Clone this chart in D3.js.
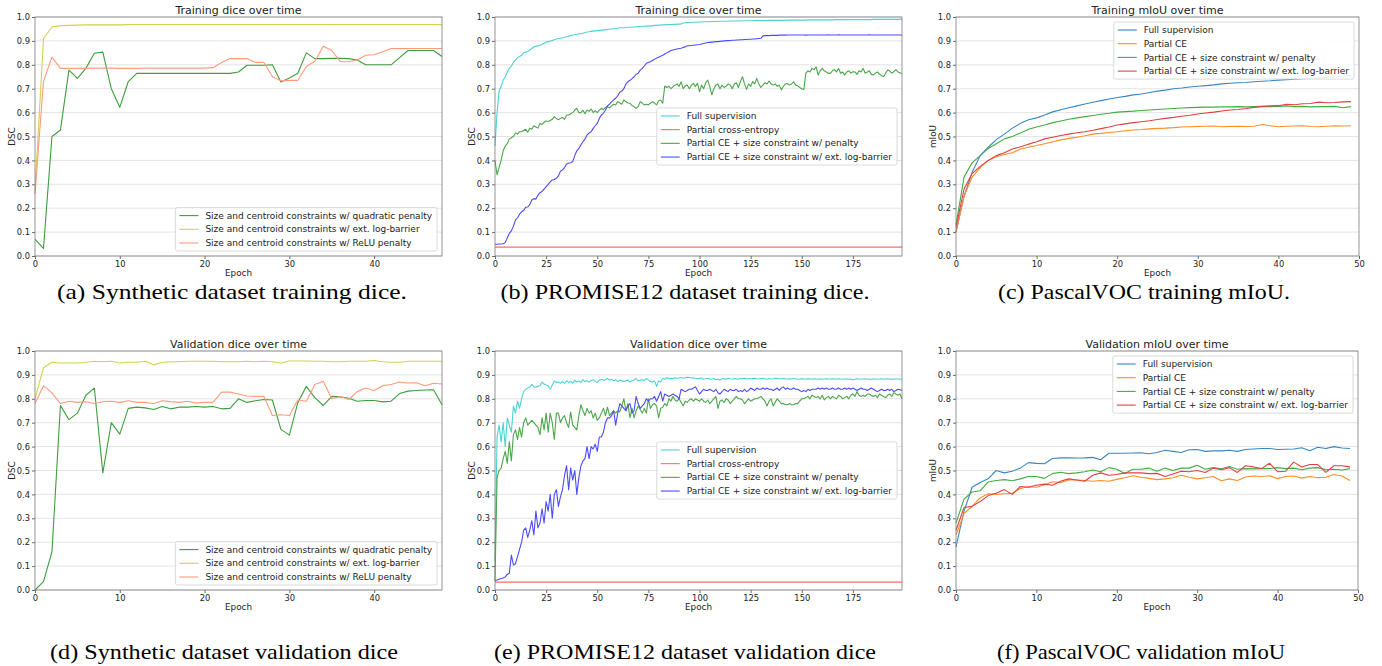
<!DOCTYPE html>
<html>
<head>
<meta charset="utf-8">
<script src="https://cdn.jsdelivr.net/npm/d3@7"></script>
<style>
  body { margin: 0; background: #fff; }
  svg { display: block; }
</style>
</head>
<body>
<div id="figure"></div>
<script>
// 1: DATA (one value per epoch)

const yTicks = [0.0, 0.1, 0.2, 0.3, 0.4, 0.5, 0.6, 0.7, 0.8, 0.9, 1.0];
const synthTicks = [0, 10, 20, 30, 40];
const promiseTicks = [0, 25, 50, 75, 100, 125, 150, 175];
const vocTicks = [0, 10, 20, 30, 40, 50];

const synthLabels = [
  "Size and centroid constraints w/ quadratic penalty",
  "Size and centroid constraints w/ ext. log-barrier",
  "Size and centroid constraints w/ ReLU penalty"
];
const promiseLabels = [
  "Full supervision",
  "Partial cross-entropy",
  "Partial CE + size constraint w/ penalty",
  "Partial CE + size constraint w/ ext. log-barrier"
];
const vocLabels = [
  "Full supervision",
  "Partial CE",
  "Partial CE + size constraint w/ penalty",
  "Partial CE + size constraint w/ ext. log-barrier"
];

// (a) synthetic training dice, epochs 0..48
const synthTrainQuad = [0.07,0.032,0.50,0.527,0.778,0.743,0.785,0.848,0.853,0.70,
  0.622,0.73,0.764,0.764,0.764,0.764,0.764,0.764,0.764,0.764,
  0.764,0.764,0.764,0.764,0.770,0.798,0.798,0.798,0.80,0.728,
  0.745,0.765,0.85,0.826,0.826,0.827,0.827,0.826,0.82,0.80,
  0.80,0.80,0.80,0.83,0.86,0.86,0.86,0.86,0.835];
const synthTrainLog = [0.27,0.91,0.958,0.964,0.965,0.966,0.967,0.967,0.967,0.967,
  0.967,0.968,0.968,0.968,0.968,0.968,0.968,0.968,0.968,0.968,
  0.968,0.968,0.968,0.968,0.968,0.968,0.968,0.968,0.968,0.968,
  0.968,0.968,0.968,0.968,0.968,0.968,0.968,0.968,0.968,0.968,
  0.968,0.968,0.968,0.968,0.968,0.968,0.968,0.968,0.968];
const synthTrainRelu = [0.26,0.73,0.832,0.785,0.785,0.785,0.785,0.786,0.786,0.786,
  0.785,0.785,0.785,0.786,0.786,0.786,0.786,0.786,0.786,0.786,
  0.786,0.788,0.81,0.826,0.826,0.826,0.81,0.81,0.75,0.733,
  0.735,0.735,0.793,0.815,0.878,0.86,0.813,0.813,0.82,0.84,
  0.842,0.855,0.868,0.868,0.868,0.868,0.868,0.868,0.868];

// (d) synthetic validation dice, epochs 0..48
const synthValQuad = [0.0,0.035,0.16,0.772,0.713,0.74,0.815,0.845,0.49,0.70,
  0.652,0.76,0.765,0.762,0.755,0.768,0.758,0.765,0.765,0.768,
  0.765,0.768,0.758,0.76,0.80,0.785,0.792,0.797,0.795,0.672,
  0.648,0.785,0.852,0.805,0.772,0.81,0.808,0.802,0.79,0.793,
  0.793,0.787,0.79,0.822,0.832,0.835,0.837,0.838,0.775];
const synthValLog = [0.80,0.93,0.953,0.95,0.95,0.95,0.953,0.957,0.955,0.957,
  0.95,0.953,0.953,0.957,0.942,0.953,0.955,0.955,0.957,0.957,
  0.957,0.957,0.955,0.955,0.955,0.957,0.955,0.957,0.955,0.95,
  0.958,0.958,0.958,0.957,0.957,0.955,0.955,0.957,0.957,0.957,
  0.96,0.955,0.953,0.953,0.957,0.957,0.957,0.957,0.957];
const synthValRelu = [0.78,0.855,0.825,0.78,0.79,0.785,0.788,0.78,0.788,0.79,
  0.785,0.792,0.785,0.785,0.78,0.792,0.788,0.785,0.79,0.782,
  0.785,0.785,0.828,0.828,0.82,0.812,0.81,0.81,0.73,0.733,
  0.73,0.795,0.79,0.86,0.873,0.80,0.81,0.797,0.83,0.845,
  0.835,0.855,0.86,0.87,0.866,0.867,0.855,0.865,0.862];

// (b) PROMISE12 training dice, epochs 0..199
const promTrainFull = [0.46,0.60,0.69,0.71,0.735,0.75,0.77,0.785,0.795,0.81,0.82,0.83,0.835,0.84,0.85,0.853,0.857,0.862,0.868,0.875,
  0.878,0.879,0.882,0.885,0.89,0.895,0.897,0.899,0.902,0.905,0.908,0.91,0.911,0.913,0.915,0.917,0.92,0.923,0.925,0.926,
  0.928,0.93,0.93,0.932,0.935,0.937,0.938,0.94,0.941,0.942,0.943,0.944,0.945,0.946,0.946,0.948,0.949,0.95,0.951,0.952,
  0.953,0.955,0.955,0.955,0.956,0.957,0.957,0.958,0.958,0.959,0.96,0.96,0.961,0.961,0.962,0.962,0.963,0.963,0.965,0.965,
  0.966,0.966,0.967,0.967,0.968,0.968,0.968,0.969,0.969,0.97,0.97,0.971,0.975,0.976,0.977,0.977,0.978,0.978,0.978,0.979,
  0.979,0.979,0.98,0.98,0.98,0.98,0.981,0.981,0.981,0.981,0.982,0.982,0.982,0.982,0.982,0.983,0.983,0.983,0.983,0.983,
  0.983,0.984,0.984,0.984,0.984,0.984,0.984,0.985,0.985,0.985,0.985,0.985,0.985,0.985,0.986,0.986,0.986,0.986,0.986,0.986,
  0.986,0.986,0.986,0.987,0.987,0.987,0.987,0.987,0.987,0.987,0.987,0.987,0.987,0.988,0.988,0.988,0.988,0.988,0.988,0.988,
  0.988,0.988,0.988,0.988,0.988,0.988,0.989,0.989,0.989,0.989,0.989,0.989,0.989,0.989,0.989,0.989,0.989,0.989,0.989,0.989,
  0.989,0.989,0.989,0.989,0.989,0.99,0.99,0.99,0.99,0.99,0.99,0.99,0.99,0.99,0.99,0.99,0.99,0.99,0.991,0.991];
const promTrainCE = [0.037,0.037,0.037,0.037,0.037,0.037,0.037,0.037,0.037,0.037,0.037,0.037,0.037,0.037,0.037,0.037,0.037,0.037,0.037,0.037,
  0.037,0.037,0.037,0.037,0.037,0.037,0.037,0.037,0.037,0.037,0.037,0.037,0.037,0.037,0.037,0.037,0.037,0.037,0.037,0.037,
  0.037,0.037,0.037,0.037,0.037,0.037,0.037,0.037,0.037,0.037,0.037,0.037,0.037,0.037,0.037,0.037,0.037,0.037,0.037,0.037,
  0.037,0.037,0.037,0.037,0.037,0.037,0.037,0.037,0.037,0.037,0.037,0.037,0.037,0.037,0.037,0.037,0.037,0.037,0.037,0.037,
  0.037,0.037,0.037,0.037,0.037,0.037,0.037,0.037,0.037,0.037,0.037,0.037,0.037,0.037,0.037,0.037,0.037,0.037,0.037,0.037,
  0.037,0.037,0.037,0.037,0.037,0.037,0.037,0.037,0.037,0.037,0.037,0.037,0.037,0.037,0.037,0.037,0.037,0.037,0.037,0.037,
  0.037,0.037,0.037,0.037,0.037,0.037,0.037,0.037,0.037,0.037,0.037,0.037,0.037,0.037,0.037,0.037,0.037,0.037,0.037,0.037,
  0.037,0.037,0.037,0.037,0.037,0.037,0.037,0.037,0.037,0.037,0.037,0.037,0.037,0.037,0.037,0.037,0.037,0.037,0.037,0.037,
  0.037,0.037,0.037,0.037,0.037,0.037,0.037,0.037,0.037,0.037,0.037,0.037,0.037,0.037,0.037,0.037,0.037,0.037,0.037,0.037,
  0.037,0.037,0.037,0.037,0.037,0.037,0.037,0.037,0.037,0.037,0.037,0.037,0.037,0.037,0.037,0.037,0.037,0.037,0.037,0.037];
const promTrainPen = [0.40,0.34,0.37,0.40,0.44,0.46,0.47,0.49,0.495,0.50,0.515,0.51,0.52,0.52,0.525,0.53,0.518,0.535,0.53,0.545,
  0.54,0.535,0.555,0.55,0.56,0.565,0.563,0.567,0.572,0.583,0.575,0.57,0.576,0.58,0.572,0.59,0.59,0.595,0.60,0.611,
  0.618,0.60,0.60,0.61,0.595,0.611,0.605,0.615,0.60,0.608,0.60,0.61,0.618,0.612,0.622,0.625,0.62,0.628,0.635,0.632,
  0.646,0.64,0.635,0.653,0.645,0.64,0.639,0.63,0.625,0.618,0.625,0.646,0.64,0.632,0.635,0.632,0.64,0.646,0.64,0.632,
  0.65,0.653,0.639,0.711,0.705,0.71,0.70,0.708,0.715,0.72,0.71,0.729,0.70,0.712,0.715,0.70,0.715,0.722,0.71,0.722,
  0.687,0.715,0.70,0.725,0.736,0.71,0.674,0.70,0.715,0.72,0.70,0.715,0.705,0.71,0.72,0.715,0.70,0.72,0.725,0.705,
  0.73,0.75,0.72,0.697,0.72,0.71,0.73,0.72,0.743,0.72,0.705,0.715,0.725,0.72,0.732,0.72,0.715,0.72,0.71,0.715,
  0.695,0.71,0.72,0.722,0.715,0.72,0.729,0.715,0.712,0.705,0.70,0.697,0.765,0.775,0.77,0.785,0.78,0.792,0.757,0.775,
  0.785,0.775,0.77,0.765,0.764,0.775,0.78,0.77,0.785,0.765,0.77,0.757,0.77,0.775,0.765,0.771,0.77,0.76,0.775,0.77,
  0.785,0.765,0.77,0.775,0.76,0.757,0.765,0.77,0.76,0.755,0.75,0.765,0.778,0.775,0.765,0.771,0.78,0.77,0.767,0.762];
const promTrainLog = [0.049,0.049,0.05,0.05,0.051,0.056,0.075,0.095,0.105,0.125,0.15,0.16,0.175,0.185,0.19,0.204,0.205,0.215,0.234,0.24,
  0.238,0.255,0.265,0.27,0.28,0.29,0.30,0.31,0.318,0.32,0.325,0.335,0.355,0.36,0.37,0.385,0.388,0.39,0.395,0.42,
  0.44,0.45,0.465,0.478,0.49,0.506,0.515,0.52,0.534,0.545,0.555,0.575,0.59,0.597,0.61,0.628,0.635,0.645,0.653,0.66,
  0.67,0.685,0.69,0.70,0.72,0.73,0.735,0.742,0.75,0.76,0.765,0.778,0.785,0.795,0.806,0.81,0.813,0.818,0.823,0.828,
  0.832,0.836,0.84,0.845,0.85,0.855,0.86,0.862,0.864,0.866,0.868,0.869,0.872,0.875,0.88,0.88,0.881,0.882,0.883,0.884,
  0.885,0.887,0.889,0.891,0.893,0.894,0.895,0.896,0.897,0.897,0.898,0.899,0.9,0.901,0.901,0.902,0.903,0.903,0.904,0.904,
  0.905,0.905,0.906,0.906,0.907,0.907,0.908,0.908,0.909,0.91,0.911,0.921,0.922,0.922,0.922,0.923,0.923,0.923,0.923,0.924,
  0.924,0.924,0.924,0.925,0.925,0.925,0.925,0.925,0.925,0.925,0.925,0.925,0.924,0.925,0.925,0.925,0.925,0.925,0.925,0.925,
  0.925,0.925,0.925,0.926,0.925,0.925,0.925,0.925,0.926,0.925,0.925,0.925,0.925,0.925,0.925,0.925,0.925,0.925,0.925,0.925,
  0.925,0.925,0.925,0.926,0.925,0.925,0.925,0.925,0.925,0.925,0.925,0.925,0.925,0.925,0.925,0.925,0.925,0.925,0.925,0.925];

// (e) PROMISE12 validation dice, epochs 0..199
const promValFull = [0.12,0.64,0.69,0.62,0.70,0.60,0.72,0.69,0.66,0.77,0.74,0.79,0.76,0.80,0.83,0.84,0.845,0.85,0.86,0.85,
  0.848,0.852,0.855,0.87,0.862,0.858,0.855,0.84,0.858,0.875,0.868,0.87,0.865,0.872,0.865,0.875,0.868,0.873,0.865,0.878,
  0.87,0.875,0.868,0.88,0.872,0.876,0.87,0.877,0.88,0.873,0.868,0.878,0.882,0.878,0.88,0.885,0.878,0.882,0.875,0.88,
  0.872,0.878,0.875,0.872,0.876,0.878,0.87,0.875,0.88,0.885,0.875,0.878,0.88,0.876,0.885,0.878,0.872,0.87,0.875,0.852,
  0.875,0.87,0.885,0.882,0.888,0.885,0.886,0.884,0.888,0.886,0.887,0.889,0.886,0.888,0.89,0.889,0.887,0.888,0.886,0.885,
  0.885,0.887,0.883,0.884,0.886,0.882,0.883,0.885,0.88,0.883,0.878,0.884,0.885,0.882,0.886,0.884,0.883,0.885,0.884,0.882,
  0.885,0.884,0.886,0.883,0.885,0.884,0.885,0.886,0.884,0.883,0.885,0.886,0.884,0.882,0.885,0.883,0.884,0.886,0.885,0.884,
  0.883,0.885,0.884,0.882,0.884,0.883,0.885,0.884,0.882,0.883,0.884,0.883,0.882,0.884,0.883,0.882,0.884,0.883,0.882,0.884,
  0.882,0.883,0.884,0.883,0.882,0.884,0.883,0.882,0.884,0.883,0.882,0.883,0.884,0.882,0.883,0.880,0.882,0.884,0.883,0.882,
  0.883,0.884,0.882,0.883,0.882,0.884,0.883,0.882,0.883,0.884,0.882,0.883,0.884,0.882,0.883,0.882,0.884,0.883,0.882,0.883];
const promValCE = [0.033,0.033,0.033,0.033,0.033,0.033,0.033,0.033,0.033,0.033,0.033,0.033,0.033,0.033,0.033,0.033,0.033,0.033,0.033,0.033,
  0.033,0.033,0.033,0.033,0.033,0.033,0.033,0.033,0.033,0.033,0.033,0.033,0.033,0.033,0.033,0.033,0.033,0.033,0.033,0.033,
  0.033,0.033,0.033,0.033,0.033,0.033,0.033,0.033,0.033,0.033,0.033,0.033,0.033,0.033,0.033,0.033,0.033,0.033,0.033,0.033,
  0.033,0.033,0.033,0.033,0.033,0.033,0.033,0.033,0.033,0.033,0.033,0.033,0.033,0.033,0.033,0.033,0.033,0.033,0.033,0.033,
  0.033,0.033,0.033,0.033,0.033,0.033,0.033,0.033,0.033,0.033,0.033,0.033,0.033,0.033,0.033,0.033,0.033,0.033,0.033,0.033,
  0.033,0.033,0.033,0.033,0.033,0.033,0.033,0.033,0.033,0.033,0.033,0.033,0.033,0.033,0.033,0.033,0.033,0.033,0.033,0.033,
  0.033,0.033,0.033,0.033,0.033,0.033,0.033,0.033,0.033,0.033,0.033,0.033,0.033,0.033,0.033,0.033,0.033,0.033,0.033,0.033,
  0.033,0.033,0.033,0.033,0.033,0.033,0.033,0.033,0.033,0.033,0.033,0.033,0.033,0.033,0.033,0.033,0.033,0.033,0.033,0.033,
  0.033,0.033,0.033,0.033,0.033,0.033,0.033,0.033,0.033,0.033,0.033,0.033,0.033,0.033,0.033,0.033,0.033,0.033,0.033,0.033,
  0.033,0.033,0.033,0.033,0.033,0.033,0.033,0.033,0.033,0.033,0.033,0.033,0.033,0.033,0.033,0.033,0.033,0.033,0.033,0.033];
const promValPen = [0.04,0.47,0.50,0.51,0.55,0.58,0.53,0.62,0.54,0.65,0.67,0.63,0.68,0.64,0.70,0.72,0.69,0.70,0.71,0.70,
  0.69,0.68,0.65,0.72,0.67,0.74,0.66,0.74,0.70,0.63,0.74,0.74,0.70,0.72,0.73,0.70,0.68,0.745,0.69,0.68,
  0.67,0.73,0.775,0.75,0.73,0.76,0.74,0.75,0.72,0.74,0.71,0.72,0.74,0.76,0.73,0.765,0.73,0.74,0.75,0.74,
  0.75,0.745,0.77,0.80,0.75,0.78,0.72,0.76,0.72,0.75,0.77,0.755,0.74,0.76,0.74,0.80,0.76,0.775,0.78,0.77,
  0.72,0.76,0.765,0.78,0.77,0.80,0.79,0.81,0.795,0.79,0.80,0.785,0.77,0.79,0.785,0.795,0.80,0.79,0.80,0.795,
  0.79,0.80,0.79,0.785,0.795,0.78,0.79,0.80,0.81,0.76,0.79,0.795,0.785,0.80,0.795,0.78,0.79,0.80,0.81,0.80,
  0.80,0.795,0.78,0.79,0.80,0.79,0.795,0.80,0.80,0.805,0.81,0.80,0.79,0.77,0.79,0.80,0.77,0.785,0.80,0.79,
  0.78,0.78,0.775,0.775,0.78,0.775,0.775,0.78,0.78,0.79,0.80,0.80,0.805,0.81,0.80,0.815,0.81,0.805,0.81,0.80,
  0.815,0.795,0.805,0.81,0.80,0.81,0.805,0.80,0.815,0.81,0.80,0.805,0.81,0.80,0.815,0.82,0.81,0.83,0.815,0.81,
  0.815,0.81,0.82,0.82,0.815,0.81,0.815,0.805,0.82,0.815,0.81,0.805,0.815,0.82,0.81,0.825,0.82,0.815,0.82,0.80];
const promValLog = [0.04,0.042,0.045,0.048,0.05,0.055,0.065,0.07,0.146,0.105,0.11,0.14,0.17,0.20,0.25,0.26,0.22,0.25,0.29,0.23,
  0.33,0.26,0.28,0.34,0.28,0.37,0.33,0.40,0.30,0.40,0.42,0.35,0.39,0.42,0.48,0.52,0.42,0.51,0.46,0.50,
  0.40,0.47,0.52,0.54,0.55,0.60,0.55,0.60,0.59,0.61,0.58,0.64,0.64,0.66,0.70,0.72,0.72,0.73,0.75,0.69,
  0.74,0.78,0.77,0.76,0.75,0.77,0.78,0.74,0.75,0.81,0.78,0.76,0.77,0.78,0.80,0.79,0.80,0.80,0.81,0.79,
  0.81,0.83,0.79,0.82,0.815,0.81,0.815,0.82,0.815,0.81,0.80,0.84,0.835,0.83,0.835,0.84,0.84,0.845,0.85,0.835,
  0.82,0.83,0.84,0.835,0.835,0.84,0.835,0.83,0.84,0.825,0.82,0.83,0.84,0.835,0.83,0.84,0.835,0.835,0.84,0.83,
  0.835,0.83,0.84,0.83,0.835,0.845,0.84,0.835,0.845,0.84,0.84,0.845,0.84,0.845,0.84,0.84,0.835,0.84,0.845,0.835,
  0.845,0.85,0.84,0.845,0.84,0.84,0.845,0.84,0.84,0.835,0.83,0.835,0.83,0.84,0.835,0.84,0.84,0.84,0.845,0.84,
  0.845,0.84,0.845,0.84,0.84,0.845,0.84,0.84,0.845,0.84,0.84,0.845,0.84,0.845,0.84,0.845,0.84,0.835,0.84,0.845,
  0.84,0.84,0.835,0.84,0.845,0.84,0.835,0.83,0.835,0.84,0.835,0.835,0.84,0.835,0.84,0.83,0.835,0.84,0.838,0.835];

// (c) PascalVOC training mIoU, epochs 0..49
const vocTrainFull = [0.10,0.25,0.35,0.42,0.455,0.487,0.51,0.535,0.555,0.57,
  0.578,0.59,0.603,0.612,0.62,0.628,0.636,0.643,0.65,0.657,
  0.663,0.668,0.674,0.678,0.684,0.69,0.694,0.70,0.703,0.707,
  0.71,0.713,0.716,0.72,0.723,0.725,0.726,0.729,0.731,0.733,
  0.736,0.738,0.74,0.742,0.744,0.745,0.748,0.75,0.752,0.755];
const vocTrainCE = [0.10,0.25,0.33,0.37,0.40,0.415,0.425,0.432,0.448,0.455,
  0.462,0.47,0.478,0.486,0.492,0.497,0.503,0.51,0.513,0.517,
  0.52,0.524,0.527,0.529,0.532,0.534,0.535,0.537,0.54,0.541,
  0.542,0.543,0.544,0.541,0.542,0.543,0.542,0.543,0.55,0.545,
  0.541,0.543,0.544,0.545,0.542,0.541,0.543,0.545,0.544,0.545];
const vocTrainPen = [0.13,0.33,0.39,0.42,0.45,0.47,0.49,0.50,0.515,0.53,
  0.54,0.548,0.558,0.565,0.572,0.578,0.583,0.588,0.593,0.597,
  0.602,0.604,0.606,0.609,0.611,0.613,0.615,0.617,0.619,0.621,
  0.622,0.623,0.623,0.624,0.624,0.625,0.624,0.625,0.626,0.625,
  0.626,0.628,0.625,0.626,0.624,0.625,0.625,0.626,0.62,0.625];
const vocTrainLog = [0.12,0.28,0.345,0.375,0.40,0.42,0.432,0.448,0.457,0.468,
  0.478,0.49,0.497,0.504,0.51,0.516,0.52,0.526,0.533,0.54,
  0.548,0.553,0.558,0.562,0.566,0.571,0.576,0.58,0.585,0.589,
  0.594,0.598,0.602,0.607,0.611,0.613,0.617,0.622,0.626,0.628,
  0.629,0.635,0.633,0.637,0.638,0.644,0.641,0.642,0.645,0.646];

// (f) PascalVOC validation mIoU, epochs 0..49
const vocValFull = [0.18,0.33,0.43,0.45,0.465,0.50,0.49,0.497,0.51,0.533,
  0.53,0.528,0.55,0.553,0.553,0.552,0.553,0.555,0.545,0.572,
  0.572,0.572,0.573,0.574,0.57,0.575,0.585,0.58,0.575,0.587,
  0.588,0.58,0.582,0.582,0.585,0.58,0.588,0.59,0.592,0.592,
  0.588,0.589,0.59,0.595,0.583,0.597,0.592,0.60,0.594,0.592];
const vocValCE = [0.23,0.32,0.35,0.385,0.403,0.40,0.403,0.405,0.425,0.432,
  0.43,0.44,0.453,0.45,0.46,0.46,0.458,0.455,0.458,0.455,
  0.463,0.47,0.478,0.472,0.467,0.462,0.465,0.47,0.48,0.472,
  0.465,0.47,0.475,0.457,0.465,0.458,0.473,0.477,0.475,0.478,
  0.466,0.475,0.477,0.468,0.475,0.47,0.472,0.483,0.477,0.458];
const vocValPen = [0.28,0.38,0.41,0.415,0.452,0.458,0.462,0.457,0.465,0.475,
  0.475,0.467,0.487,0.493,0.487,0.49,0.495,0.502,0.495,0.512,
  0.505,0.487,0.505,0.505,0.51,0.497,0.51,0.50,0.51,0.51,
  0.522,0.505,0.512,0.507,0.517,0.505,0.508,0.507,0.508,0.508,
  0.512,0.508,0.51,0.503,0.51,0.512,0.503,0.505,0.502,0.508];
const vocValLog = [0.25,0.345,0.35,0.37,0.395,0.405,0.42,0.40,0.433,0.43,
  0.438,0.443,0.438,0.455,0.465,0.46,0.455,0.48,0.49,0.48,
  0.483,0.49,0.49,0.49,0.487,0.488,0.475,0.485,0.497,0.495,
  0.50,0.492,0.51,0.503,0.512,0.492,0.52,0.515,0.508,0.53,
  0.495,0.497,0.535,0.515,0.525,0.525,0.492,0.52,0.52,0.515];

// 2: LAYOUT
const synthColors = ["#3d9e3d", "#d2d24c", "#ff9b7c"];
const promiseColors = ["#4cd2d2", "#ff6b6b", "#4ca64c", "#4c4cff"];
const vocColors = ["#3a87c0", "#ff8c26", "#42ad42", "#dc4243"];

const FONT = "DejaVu Sans";
const svg = d3.select("#figure").append("svg")
    .attr("width", 1382)
    .attr("height", 666);
svg.append("rect").attr("width", 1382).attr("height", 666).attr("fill", "#fff");

function drawPanel(p) {
    const w = p.right - p.left, h = p.bottom - p.top;
    const g = svg.append("g").attr("transform", `translate(${p.left},${p.top})`);

    const x = d3.scaleLinear().domain([0, p.xMax]).range([0, w]);
    const y = d3.scaleLinear().domain([0, 1]).range([h, 0]);

    // horizontal grid
    g.append("g").selectAll("line").data(yTicks).join("line")
        .attr("x1", 0).attr("x2", w)
        .attr("y1", d => y(d)).attr("y2", d => y(d))
        .attr("stroke", "#dddddd").attr("stroke-width", 0.8);

    // series
    const line = d3.line().x((d, i) => x(i)).y(d => y(d));
    p.series.forEach(s => {
        g.append("path")
            .datum(s.values)
            .attr("fill", "none")
            .attr("stroke", s.color)
            .attr("stroke-width", 1.1)
            .attr("stroke-linejoin", "round")
            .attr("d", line);
    });

    // axes
    const xAxis = g.append("g")
        .attr("transform", `translate(0,${h})`)
        .call(d3.axisBottom(x).tickValues(p.xTicks).tickFormat(d3.format("d")).tickSize(3).tickPadding(2));
    const yAxis = g.append("g")
        .call(d3.axisLeft(y).tickValues(yTicks).tickFormat(d3.format(".1f")).tickSize(3).tickPadding(2));
    [xAxis, yAxis].forEach(a => {
        a.attr("font-family", FONT).attr("font-size", 8.3);
        a.select(".domain").remove();
        a.selectAll(".tick line").attr("stroke", "#444").attr("stroke-width", 0.8);
        a.selectAll(".tick text").attr("fill", "#222");
    });

    // frame
    g.append("rect")
        .attr("width", w).attr("height", h)
        .attr("fill", "none").attr("stroke", "#7a7a7a").attr("stroke-width", 0.8);

    // title and axis labels
    g.append("text")
        .attr("x", w / 2).attr("y", -3)
        .attr("text-anchor", "middle")
        .attr("font-family", FONT).attr("font-size", 11).attr("fill", "#222")
        .text(p.title);
    g.append("text")
        .attr("x", w / 2).attr("y", h + 20)
        .attr("text-anchor", "middle")
        .attr("font-family", FONT).attr("font-size", 8.8).attr("fill", "#222")
        .text("Epoch");
    g.append("text")
        .attr("transform", `translate(${-23.5},${h / 2}) rotate(-90)`)
        .attr("text-anchor", "middle")
        .attr("dy", "0.35em")
        .attr("font-family", FONT).attr("font-size", 8.8).attr("fill", "#222")
        .text(p.yLabel);

    // legend
    const rowH = 13.7;
    const lg = g.append("g");
    const box = lg.append("rect");
    const items = lg.selectAll("g.item").data(p.series).join("g").attr("class", "item");
    items.append("line")
        .attr("x1", 4).attr("x2", 23)
        .attr("y1", (d, i) => 8 + i * rowH).attr("y2", (d, i) => 8 + i * rowH)
        .attr("stroke", d => d.color).attr("stroke-width", 1.1);
    items.append("text")
        .attr("x", 30).attr("y", (d, i) => 8 + i * rowH)
        .attr("dy", "0.35em")
        .attr("font-family", FONT).attr("font-size", 9).attr("fill", "#222")
        .text(d => d.label);
    const maxW = d3.max(items.select("text").nodes(), n => n.getComputedTextLength());
    const boxW = 30 + maxW + 5;
    const boxH = (p.series.length - 1) * rowH + 16;
    const lx = w - 5 - boxW;
    const ly = p.legendLoc === "lower" ? h - 5 - boxH : p.legendLoc === "center" ? (h - boxH) / 2 : 5;
    lg.attr("transform", `translate(${lx},${ly})`);
    box.attr("width", boxW).attr("height", boxH).attr("rx", 2)
        .attr("fill", "#fff").attr("fill-opacity", 0.85)
        .attr("stroke", "#d0d0d0").attr("stroke-width", 0.8);

    // caption under the panel (condensed serif, as in the figure)
    svg.append("text")
        .attr("x", p.capX).attr("y", p.capY)
        .attr("text-anchor", "middle")
        .attr("font-family", "Liberation Serif").attr("font-size", 22).attr("fill", "#000")
        .attr("textLength", p.capW).attr("lengthAdjust", "spacingAndGlyphs")
        .text(p.caption);
}

function mk(labels, colors, arrays) {
    return arrays.map((v, i) => ({ label: labels[i], color: colors[i], values: v }));
}

// 3: PANELS
drawPanel({ left: 35, right: 442, top: 17, bottom: 256, xMax: 48, xTicks: synthTicks,
    title: "Training dice over time", yLabel: "DSC", legendLoc: "lower",
    series: mk(synthLabels, synthColors, [synthTrainQuad, synthTrainLog, synthTrainRelu]),
    caption: "(a) Synthetic dataset training dice.", capX: 232, capY: 299, capW: 350 });
drawPanel({ left: 495, right: 902, top: 17, bottom: 256, xMax: 199, xTicks: promiseTicks,
    title: "Training dice over time", yLabel: "DSC", legendLoc: "center",
    series: mk(promiseLabels, promiseColors, [promTrainFull, promTrainCE, promTrainPen, promTrainLog]),
    caption: "(b) PROMISE12 dataset training dice.", capX: 685, capY: 299, capW: 369 });
drawPanel({ left: 956, right: 1359, top: 17, bottom: 256, xMax: 50, xTicks: vocTicks,
    title: "Training mIoU over time", yLabel: "mIoU", legendLoc: "upper",
    series: mk(vocLabels, vocColors, [vocTrainFull, vocTrainCE, vocTrainPen, vocTrainLog]),
    caption: "(c) PascalVOC training mIoU.", capX: 1144, capY: 299, capW: 292 });

drawPanel({ left: 35, right: 442, top: 351, bottom: 590, xMax: 48, xTicks: synthTicks,
    title: "Validation dice over time", yLabel: "DSC", legendLoc: "lower",
    series: mk(synthLabels, synthColors, [synthValQuad, synthValLog, synthValRelu]),
    caption: "(d) Synthetic dataset validation dice", capX: 224, capY: 659, capW: 348 });
drawPanel({ left: 495, right: 902, top: 351, bottom: 590, xMax: 199, xTicks: promiseTicks,
    title: "Validation dice over time", yLabel: "DSC", legendLoc: "center",
    series: mk(promiseLabels, promiseColors, [promValFull, promValCE, promValPen, promValLog]),
    caption: "(e) PROMISE12 dataset validation dice", capX: 685, capY: 659, capW: 382 });
drawPanel({ left: 956, right: 1358, top: 351, bottom: 590, xMax: 50, xTicks: vocTicks,
    title: "Validation mIoU over time", yLabel: "mIoU", legendLoc: "upper",
    series: mk(vocLabels, vocColors, [vocValFull, vocValCE, vocValPen, vocValLog]),
    caption: "(f) PascalVOC validation mIoU", capX: 1141, capY: 659, capW: 288 });
</script>
</body>
</html>
